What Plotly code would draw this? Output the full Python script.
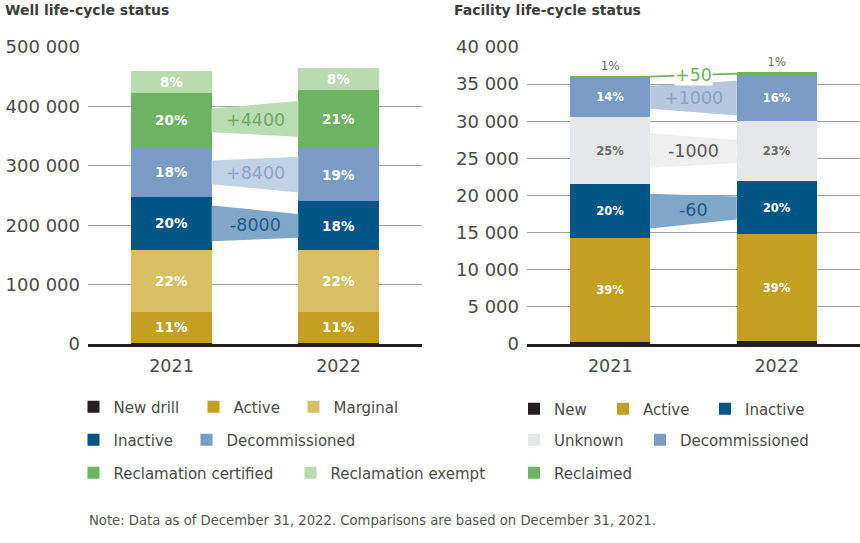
import plotly.graph_objects as go

# ---------------- data ----------------
YEARS = ["2021", "2022"]
X_POS = [0, 1]

# Well life-cycle status (counts per status, stacked bottom -> top)
WELL_NAMES = ["New drill", "Active", "Marginal", "Inactive", "Decommissioned",
              "Reclamation certified", "Reclamation exempt"]
WELL_NEW_DRILL = [2000, 2000]
WELL_ACTIVE = [52000, 52000]
WELL_MARGINAL = [104000, 104000]
WELL_INACTIVE = [90000, 82000]
WELL_DECOMMISSIONED = [82000, 90400]
WELL_RECL_CERTIFIED = [93000, 97400]
WELL_RECL_EXEMPT = [36600, 36600]
WELL_PCT_LABELS = [
    [None, None],
    ["11%", "11%"],
    ["22%", "22%"],
    ["20%", "18%"],
    ["18%", "19%"],
    ["20%", "21%"],
    ["8%", "8%"],
]
WELL_CHANGE_SERIES = ["Inactive", "Decommissioned", "Reclamation certified"]
WELL_CHANGE_LABELS = ["-8000", "+8400", "+4400"]
WELL_TICKS = [0, 100000, 200000, 300000, 400000, 500000]

# Facility life-cycle status
FAC_NAMES = ["New", "Active", "Inactive", "Unknown", "Decommissioned", "Reclaimed"]
FAC_NEW = [300, 400]
FAC_ACTIVE = [14000, 14350]
FAC_INACTIVE = [7200, 7140]
FAC_UNKNOWN = [9100, 8100]
FAC_DECOMMISSIONED = [5250, 6250]
FAC_RECLAIMED = [300, 350]
FAC_PCT_LABELS = [
    [None, None],
    ["39%", "39%"],
    ["20%", "20%"],
    ["25%", "23%"],
    ["14%", "16%"],
    ["1%", "1%"],
]
FAC_CHANGE_SERIES = ["Inactive", "Unknown", "Decommissioned", "Reclaimed"]
FAC_CHANGE_LABELS = ["-60", "-1000", "+1000", "+50"]
FAC_TICKS = [0, 5000, 10000, 15000, 20000, 25000, 30000, 35000, 40000]

WELL_SERIES = [WELL_NEW_DRILL, WELL_ACTIVE, WELL_MARGINAL, WELL_INACTIVE,
               WELL_DECOMMISSIONED, WELL_RECL_CERTIFIED, WELL_RECL_EXEMPT]
FAC_SERIES = [FAC_NEW, FAC_ACTIVE, FAC_INACTIVE, FAC_UNKNOWN,
              FAC_DECOMMISSIONED, FAC_RECLAIMED]

# ---------------- style ----------------
FONT = "DejaVu Sans"
TXT = "#4a4a4a"
C_BLACK = "#231f20"
C_ACTIVE = "#c3a022"
C_MARGINAL = "#d8bf64"
C_INACTIVE = "#005587"
C_DECOM = "#7a9bc5"
C_RECL = "#6cb461"
C_EXEMPT = "#b8dbb0"
C_UNKNOWN = "#e6e7e8"

WELL_COLORS = [C_BLACK, C_ACTIVE, C_MARGINAL, C_INACTIVE, C_DECOM, C_RECL, C_EXEMPT]
FAC_COLORS = [C_BLACK, C_ACTIVE, C_INACTIVE, C_UNKNOWN, C_DECOM, C_RECL]

WELL_LEGENDS = ["legend", "legend", "legend", "legend2", "legend2", "legend3", "legend3"]
WELL_LEGEND_W = [75, 55, 80, 68, 130, 172, 150]
FAC_LEGENDS = ["legend4", "legend4", "legend4", "legend5", "legend5", "legend6"]
FAC_LEGEND_W = [44, 57, 70, 81, 130, 90]

WELL_TEXT_COLORS = ["white"] * 7
FAC_TEXT_COLORS = ["white", "white", "white", "#6b6b6b", "white", "#6b6b6b"]

WELL_CHANGE_STYLE = {
    "Inactive": ("#7fa7c9", "#1d5a8c"),
    "Decommissioned": ("#c2d2e5", "#8aa6c9"),
    "Reclamation certified": ("#badcb2", "#6cab60"),
}
FAC_CHANGE_STYLE = {
    "Inactive": ("#7fa7c9", "#1d5a8c"),
    "Unknown": ("#efeff0", "#5a5a5a"),
    "Decommissioned": ("#b6c8df", "#8aa3c4"),
    "Reclaimed": ("line", "#6cb461"),
}

BAR_W = 0.48
HALF = BAR_W / 2

fig = go.Figure()


def add_chart(names, series, colors, pct, text_colors, legends, legend_w,
              xa, ya, pct_size, changes, change_labels, change_style,
              half_small, half_large):
    # change bands between the two bars
    bases = []
    for yi in range(2):
        acc, b = 0, []
        for s in series:
            b.append(acc)
            acc += s[yi]
        bases.append(b)
    for name, lab in zip(changes, change_labels):
        i = names.index(name)
        v0, v1 = series[i][0], series[i][1]
        m0 = bases[0][i] + v0 / 2
        m1 = bases[1][i] + v1 / 2
        fill, tcol = change_style[name]
        if fill == "line":
            fig.add_trace(go.Scatter(
                x=[HALF, 1 - HALF], y=[m0, m1], mode="lines",
                line=dict(color=tcol, width=1.8), showlegend=False,
                hoverinfo="skip", xaxis=xa, yaxis=ya))
            bg = "white"
        else:
            h0 = half_large if v0 > v1 else half_small
            h1 = half_large if v1 > v0 else half_small
            fig.add_trace(go.Scatter(
                x=[HALF, 1 - HALF, 1 - HALF, HALF, HALF],
                y=[m0 + h0, m1 + h1, m1 - h1, m0 - h0, m0 + h0],
                mode="lines", fill="toself", fillcolor=fill,
                line=dict(width=0, color=fill), showlegend=False,
                hoverinfo="skip", xaxis=xa, yaxis=ya))
            bg = None
        fig.add_annotation(
            x=0.5, y=(m0 + m1) / 2, xref=xa, yref=ya, text=lab,
            showarrow=False, bgcolor=bg, borderpad=0,
            font=dict(family=FONT, size=17.5, color=tcol))
    # stacked bars
    n = len(series)
    for k, (nm, s, c, p, tc, lg, lw) in enumerate(
            zip(names, series, colors, pct, text_colors, legends, legend_w)):
        top = (k == n - 1) and xa == "x2"
        labels = [None if t is None else (t if top else "<b>%s</b>" % t) for t in p]
        fig.add_trace(go.Bar(
            x=X_POS, y=s, name=nm, width=BAR_W,
            marker=dict(color=c, line=dict(width=0)),
            text=labels, textposition=("outside" if top else "inside"),
            insidetextanchor="middle", constraintext="none",
            textfont=dict(family=FONT, size=(12 if top else pct_size), color=tc),
            cliponaxis=False,
            legend=lg, legendwidth=lw, xaxis=xa, yaxis=ya,
            hoverinfo="name+y"))


add_chart(WELL_NAMES, WELL_SERIES, WELL_COLORS, WELL_PCT_LABELS, WELL_TEXT_COLORS,
          WELL_LEGENDS, WELL_LEGEND_W, "x", "y", 13.5,
          WELL_CHANGE_SERIES, WELL_CHANGE_LABELS, WELL_CHANGE_STYLE, 20000, 30000)
add_chart(FAC_NAMES, FAC_SERIES, FAC_COLORS, FAC_PCT_LABELS, FAC_TEXT_COLORS,
          FAC_LEGENDS, FAC_LEGEND_W, "x2", "y2", 11.5,
          FAC_CHANGE_SERIES, FAC_CHANGE_LABELS, FAC_CHANGE_STYLE, 1550, 2350)

W, H = 860, 543
Y_DOM = [(543 - 344) / H, (543 - 47) / H]


def xax(dom, anchor):
    return dict(domain=dom, range=[-0.5, 1.5], tickvals=X_POS, ticktext=YEARS,
                showgrid=False, zeroline=False, showline=True, anchor=anchor,
                linecolor=C_BLACK, linewidth=3, ticks="",
                ticklabelstandoff=4, fixedrange=True,
                tickfont=dict(family=FONT, size=17.5, color=TXT))


def yax(rng, ticks, anchor):
    return dict(domain=Y_DOM, range=rng, tickvals=ticks, tickformat=",d",
                showgrid=True, gridcolor="#a0a0a0", gridwidth=1.2,
                zeroline=False, showline=False, ticks="", anchor=anchor,
                ticklabelstandoff=7, fixedrange=True,
                tickfont=dict(family=FONT, size=18, color=TXT))


def leg(x, y):
    return dict(orientation="h", x=x, y=y, xanchor="left", yanchor="middle",
                traceorder="normal",
                bgcolor="rgba(0,0,0,0)", borderwidth=0,
                font=dict(family=FONT, size=15, color=TXT))


fig.update_layout(
    width=W, height=H, barmode="stack", separators=". ",
    paper_bgcolor="white", plot_bgcolor="white",
    margin=dict(l=0, r=0, t=0, b=0, autoexpand=False),
    font=dict(family=FONT, color=TXT),
    xaxis=xax([88 / W, 422 / W], "y"), yaxis=yax([0, 500000], WELL_TICKS, "x"),
    xaxis2=xax([527 / W, 1.0], "y2"), yaxis2=yax([0, 40000], FAC_TICKS, "x2"),
    legend=leg(73.5 / W, 1 - 407 / H),
    legend2=leg(73.5 / W, 1 - 440 / H),
    legend3=leg(73.5 / W, 1 - 473 / H),
    legend4=leg(514 / W, 1 - 409 / H),
    legend5=leg(514 / W, 1 - 440 / H),
    legend6=leg(514 / W, 1 - 473 / H),
    showlegend=True,
)

fig.add_annotation(x=3 / W, y=1 - 10 / H, xref="paper", yref="paper",
                   xanchor="left", yanchor="middle", showarrow=False,
                   text="<b>Well life-cycle status</b>",
                   font=dict(family=FONT, size=14, color="#3d3d3d"))
fig.add_annotation(x=452 / W, y=1 - 10 / H, xref="paper", yref="paper",
                   xanchor="left", yanchor="middle", showarrow=False,
                   text="<b>Facility life-cycle status</b>",
                   font=dict(family=FONT, size=14, color="#3d3d3d"))
fig.add_annotation(x=87 / W, y=1 - 520 / H, xref="paper", yref="paper",
                   xanchor="left", yanchor="middle", showarrow=False,
                   text="Note: Data as of December 31, 2022. Comparisons are based on December 31, 2021.",
                   font=dict(family=FONT, size=13.2, color="#555555"))

fig.write_html("out.html", config={"displayModeBar": False},
               post_script="document.body.style.margin='0px';")
